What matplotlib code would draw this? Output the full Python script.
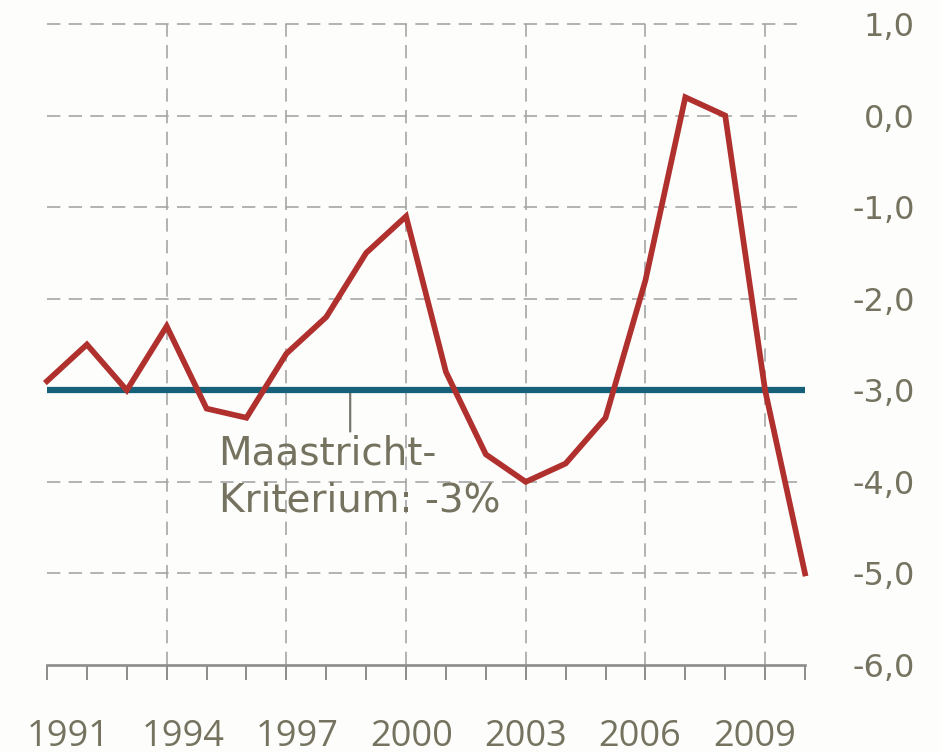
import matplotlib
matplotlib.use("Agg")
import matplotlib.pyplot as plt
import matplotlib.transforms as mtransforms
import numpy as np

# Data
years = list(range(1991, 2011))
saldo = [-2.9, -2.5, -3.0, -2.3, -3.2, -3.3, -2.6, -2.2, -1.5, -1.1,
         -2.8, -3.7, -4.0, -3.8, -3.3, -1.8, 0.2, 0.0, -3.0, -5.0]
kriterium = -3.0
x_label_years = [1991, 1994, 1997, 2000, 2003, 2006, 2009]
grid_years = [1994, 1997, 2000, 2003, 2006, 2009]
y_ticks = [1.0, 0.0, -1.0, -2.0, -3.0, -4.0, -5.0, -6.0]
annot_text = "Maastricht-\nKriterium: -3%"
annot_xy = (1998.6, kriterium)
annot_tick_end = -3.45
annot_text_pos = (1995.3, -3.48)

RED = "#b0302e"
TEAL = "#17607a"
GRID = "#a6a6a6"
TEXT = "#75735f"
AXIS = "#8c8c8c"
BG = "#fdfdfb"

fig = plt.figure(figsize=(9.4, 7.53), dpi=100, facecolor=BG)
ax = fig.add_axes([47/940, (753-665)/753, (805-47)/940, (665-24)/753])
ax.set_facecolor(BG)

ax.set_xlim(1991, 2010)
ax.set_ylim(-6, 1.0)

# Grid
for y in y_ticks[:-1]:
    ax.axhline(y, color=GRID, lw=1.2, linestyle=(0, (8, 5)), zorder=1, clip_on=False)
for gx in grid_years:
    ax.plot([gx, gx], [-6, 1.0], color=GRID, lw=1.2, linestyle=(0, (8, 5)), zorder=1, clip_on=False)

# Lines
ax.axhline(kriterium, color=TEAL, lw=4.5, zorder=3, solid_capstyle='butt')
ax.plot(years, saldo, color=RED, lw=4.1, zorder=4, solid_joinstyle='miter', clip_on=False)

# Annotation
ax.annotate("", xy=annot_xy, xytext=(annot_xy[0], annot_tick_end),
            arrowprops=dict(arrowstyle='-', color='#777770', lw=1.6,
                            shrinkA=0, shrinkB=0), zorder=2)
ax.text(annot_text_pos[0], annot_text_pos[1], annot_text, color=TEXT,
        fontsize=28, family='DejaVu Sans', va='top', ha='left',
        linespacing=1.3, zorder=5)

# Spines and ticks
for s in ['top', 'left', 'right']:
    ax.spines[s].set_visible(False)
ax.spines['bottom'].set_color(AXIS)
ax.spines['bottom'].set_linewidth(1.9)

ax.set_xticks(years)
ax.set_xticklabels([str(y) if y in x_label_years else "" for y in years],
                   fontsize=26, family='Open Sans', color=TEXT, fontweight='medium')
ax.tick_params(axis='x', direction='out', length=11, width=1.4, color=AXIS, pad=47)
for y, lab in zip(years, ax.get_xticklabels()):
    lab.set_verticalalignment('baseline')
    # labels in the reference are set slightly closer together than the ticks
    dx = -(y - 2003) * 39.9 * 0.045 / 100.0
    lab.set_transform(lab.get_transform() + mtransforms.ScaledTranslation(dx, 0, fig.dpi_scale_trans))

ax.yaxis.tick_right()
ax.set_yticks(y_ticks)
ax.set_yticklabels([f"{v:.1f}".replace('.', ',') for v in y_ticks],
                   fontsize=23, family='DejaVu Sans', color=TEXT)
ax.tick_params(axis='y', length=0, pad=79)
for lab in ax.get_yticklabels():
    lab.set_horizontalalignment('right')

fig.savefig("out.png", dpi=100, facecolor=BG)
